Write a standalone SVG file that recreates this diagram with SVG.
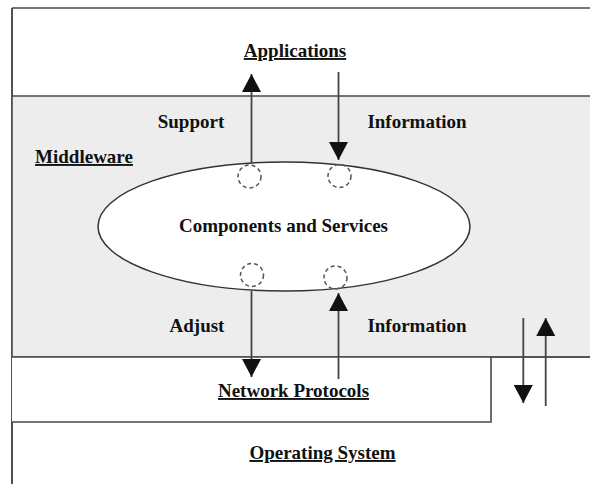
<svg xmlns="http://www.w3.org/2000/svg" width="590" height="484" viewBox="0 0 590 484">
<style>
.ln{stroke:#4a4a4a;stroke-width:1.6;fill:none}
.ar{stroke:#444;stroke-width:1.8;fill:none;marker-end:url(#ah)}
.dc{stroke:#555;stroke-width:1.5;fill:none;stroke-dasharray:4 3}
.t{font-family:"Liberation Serif","Times New Roman",serif;font-weight:bold;font-size:19px;fill:#111;text-anchor:middle}
.u{text-decoration:underline}
</style>
<defs>
<marker id="ah" markerUnits="userSpaceOnUse" markerWidth="18" markerHeight="19" refX="18" refY="9.5" orient="auto">
<path d="M0,0 L18,9.5 L0,19 z" fill="#111"/>
</marker>
</defs>
<rect width="590" height="484" fill="#fff"/>
<g id="applications">
<path class="ln" d="M12,8 H590 M12,8 V484"/>
<text class="t u" x="295" y="57">Applications</text>
</g>
<g id="middleware">
<rect x="12" y="96" width="578" height="261" fill="#ededed"/>
<path class="ln" d="M12,96 H590 M12,357 H590 M12,8 V484"/>
<text class="t u" x="84" y="163">Middleware</text>
</g>
<g id="network-protocols">
<rect x="12" y="357" width="479" height="65" fill="#fff"/>
<path class="ln" d="M12,357 H590 M491,357 V422 H12"/>
<text class="t u" x="293.5" y="397">Network Protocols</text>
</g>
<g id="operating-system">
<text class="t u" x="322.5" y="459">Operating System</text>
</g>
<g id="components">
<ellipse cx="284" cy="226.5" rx="186" ry="64.5" fill="#fff" stroke="#333" stroke-width="1.5"/>
<text class="t" x="283.5" y="232">Components and Services</text>
<circle class="dc" cx="249.5" cy="176.5" r="11.5"/>
<circle class="dc" cx="339.5" cy="176" r="11.5"/>
<circle class="dc" cx="252" cy="275" r="11.5"/>
<circle class="dc" cx="335.5" cy="277.5" r="11.5"/>
</g>
<g id="connectors">
<line class="ar" x1="251.5" y1="163" x2="251.5" y2="74"/>
<line class="ar" x1="338.5" y1="72" x2="338.5" y2="160"/>
<line class="ar" x1="251.5" y1="291" x2="251.5" y2="377"/>
<line class="ar" x1="338.5" y1="379" x2="338.5" y2="293"/>
<line class="ar" x1="523.3" y1="318" x2="523.3" y2="403"/>
<line class="ar" x1="545.7" y1="406" x2="545.7" y2="318"/>
<text class="t" x="191" y="128">Support</text>
<text class="t" x="417" y="128">Information</text>
<text class="t" x="197" y="332">Adjust</text>
<text class="t" x="417" y="332">Information</text>
</g>
</svg>
